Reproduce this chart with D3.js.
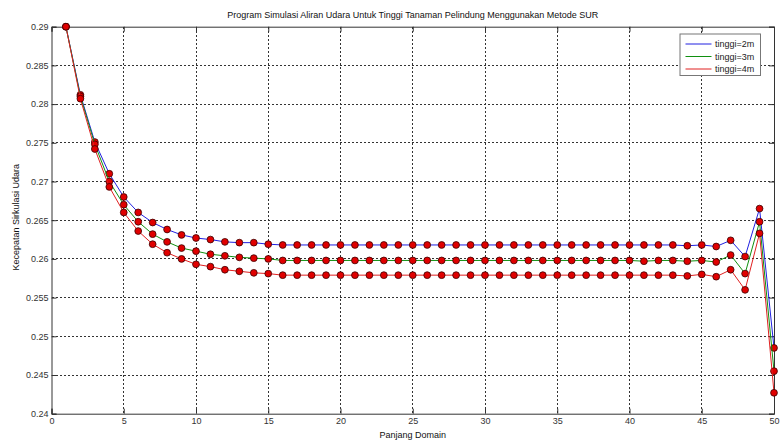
<!DOCTYPE html>
<html><head><meta charset="utf-8">
<script src="https://cdnjs.cloudflare.com/ajax/libs/d3/7.8.5/d3.min.js"></script>
<style>body{margin:0;background:#fff}svg{display:block}text{font-family:"Liberation Sans",Arial,sans-serif}</style>
</head><body><svg id="c" width="780" height="441"></svg>
<script>
const xValues = d3.range(1, 51);
const tinggi2m = [0.29,0.2812,0.2751,0.2710,0.2680,0.2660,0.2647,0.2638,0.2631,0.2627,0.2625,0.2622,0.2621,0.2621,0.2619,
  0.2618,0.2618,0.2618,0.2618,0.2618,0.2618,0.2618,0.2618,0.2618,0.2618,0.2618,0.2618,0.2618,0.2618,0.2618,
  0.2618,0.2618,0.2618,0.2618,0.2618,0.2618,0.2618,0.2618,0.2618,0.2618,0.2618,0.2618,0.2618,0.2617,0.2618,
  0.2616,0.2624,0.2603,0.2665,0.2485];
const tinggi3m = [0.29,0.2810,0.2748,0.2700,0.2670,0.2648,0.2632,0.2622,0.2614,0.2610,0.2606,0.2604,0.2602,0.2601,0.2600,
  0.2598,0.2598,0.2598,0.2598,0.2598,0.2598,0.2598,0.2598,0.2598,0.2598,0.2598,0.2598,0.2598,0.2598,0.2598,
  0.2598,0.2598,0.2598,0.2598,0.2598,0.2598,0.2598,0.2598,0.2598,0.2598,0.2597,0.2598,0.2598,0.2597,0.2598,
  0.2596,0.2605,0.2581,0.2648,0.2455];
const tinggi4m = [0.29,0.2807,0.2742,0.2693,0.2660,0.2636,0.2619,0.2608,0.2600,0.2593,0.2590,0.2586,0.2584,0.2582,0.2581,
  0.2579,0.2579,0.2579,0.2579,0.2579,0.2579,0.2579,0.2579,0.2579,0.2579,0.2579,0.2579,0.2579,0.2579,0.2579,
  0.2579,0.2579,0.2579,0.2579,0.2579,0.2579,0.2579,0.2579,0.2579,0.2579,0.2579,0.2579,0.2579,0.2578,0.2580,
  0.2577,0.2586,0.2560,0.2633,0.2427];
const seriesNames = ["tinggi=2m","tinggi=3m","tinggi=4m"];
const seriesColors = ["#2020e0","#109010","#e02020"];
const xTicks = [0,5,10,15,20,25,30,35,40,45,50];
const yTicks = [0.24,0.245,0.25,0.255,0.26,0.265,0.27,0.275,0.28,0.285,0.29];
const yTickLabels = ["0.24","0.245","0.25","0.255","0.26","0.265","0.27","0.275","0.28","0.285","0.29"];
const title = "Program Simulasi Aliran Udara Untuk Tinggi Tanaman Pelindung Menggunakan Metode SUR";
const xLabel = "Panjang Domain";
const yLabel = "Kecepatan Sirkulasi Udara";

const svg = d3.select("#c");
const L = 51.5, R = 774, T = 26.7, B = 413.7;
const x = d3.scaleLinear().domain([0,50]).range([L,R]);
const y = d3.scaleLinear().domain([0.24,0.29]).range([B,T]);

// grid
const g = svg.append("g");
g.selectAll(".gx").data(xTicks.slice(1,-1)).join("line")
  .attr("x1",d=>x(d)).attr("x2",d=>x(d)).attr("y1",T).attr("y2",B)
  .attr("stroke","#333").attr("stroke-width",1).attr("stroke-dasharray","2,2").attr("shape-rendering","crispEdges");
g.selectAll(".gy").data(yTicks.slice(1,-1)).join("line")
  .attr("x1",L).attr("x2",R).attr("y1",d=>y(d)).attr("y2",d=>y(d))
  .attr("stroke","#333").attr("stroke-width",1).attr("stroke-dasharray","2,2").attr("shape-rendering","crispEdges");

// axes
const xAxis = d3.axisBottom(x).tickValues(xTicks).tickSize(-5).tickPadding(4).tickFormat(d3.format("d"));
const yAxis = d3.axisLeft(y).tickValues(yTicks).tickSize(-5).tickPadding(3).tickFormat((d,i)=>yTickLabels[i]);
const xa = svg.append("g").attr("transform",`translate(0,${B})`).call(xAxis);
const ya = svg.append("g").attr("transform",`translate(${L},0)`).call(yAxis);
const xt = svg.append("g").attr("transform",`translate(0,${T})`).call(d3.axisTop(x).tickValues(xTicks).tickSize(-5).tickFormat(""));
const yr = svg.append("g").attr("transform",`translate(${R},0)`).call(d3.axisRight(y).tickValues(yTicks).tickSize(-5).tickFormat(""));
[xa,ya,xt,yr].forEach(a=>{
  a.select(".domain").attr("stroke","#333");
  a.selectAll(".tick line").attr("stroke","#333");
  a.selectAll("text").attr("font-size","9px").attr("fill","#333");
});

// series
const series = [tinggi2m,tinggi3m,tinggi4m];
const line = d3.line().x((d,i)=>x(xValues[i])).y(d=>y(d));
series.forEach((s,k)=>{
  const sg = svg.append("g");
  sg.append("path").datum(s).attr("d",line).attr("fill","none").attr("stroke",seriesColors[k]).attr("stroke-width",1);
  sg.selectAll("circle").data(s).join("circle")
    .attr("cx",(d,i)=>x(xValues[i])).attr("cy",d=>y(d)).attr("r",3.4)
    .attr("fill","#e00000").attr("stroke","#3a0000").attr("stroke-width",0.8);
});

// title & labels
svg.append("text").attr("x",(L+R)/2).attr("y",18).attr("text-anchor","middle").attr("font-size","9px").attr("fill","#111").text(title);
svg.append("text").attr("x",(L+R)/2).attr("y",438).attr("text-anchor","middle").attr("font-size","9px").attr("fill","#111").text(xLabel);
svg.append("text").attr("transform",`translate(18.5,${(T+B)/2 - 3}) rotate(-90)`).attr("text-anchor","middle").attr("font-size","9px").attr("fill","#111").text(yLabel);

// legend
const lg = svg.append("g");
lg.append("rect").attr("x",680).attr("y",34).attr("width",80.5).attr("height",41.5).attr("fill","#fff").attr("stroke","#777").attr("stroke-width",1);
seriesNames.forEach((n,k)=>{
  const yy = 44 + k*12.5;
  lg.append("line").attr("x1",685.5).attr("x2",711.5).attr("y1",yy).attr("y2",yy).attr("stroke",seriesColors[k]).attr("stroke-width",1);
  lg.append("text").attr("x",715).attr("y",yy+3.2).attr("font-size","9px").attr("fill","#222").text(n);
});
</script></body></html>
